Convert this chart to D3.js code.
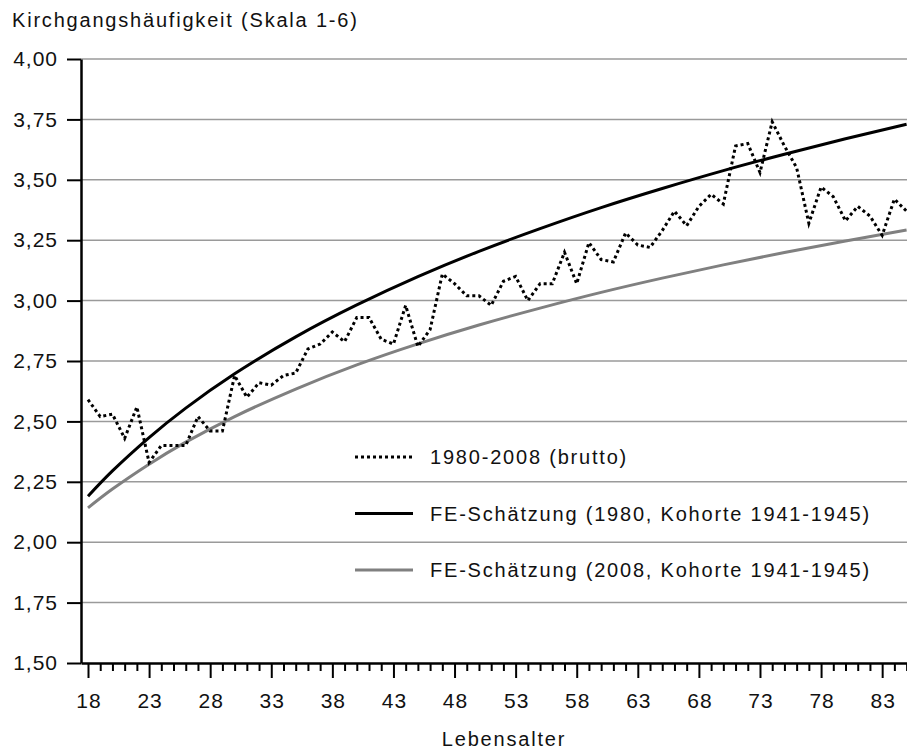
<!DOCTYPE html>
<html>
<head>
<meta charset="utf-8">
<script src="https://cdn.jsdelivr.net/npm/d3@7"></script>
<style>
  body { margin: 0; background: #fff; }
  svg text { font-family: "Liberation Sans", Arial, sans-serif; fill: #111; letter-spacing: 1.6px; }
</style>
</head>
<body>
<div id="chart"></div>
<script>
// Lebensalter 18-85, Rohwerte 1980-2008
const ages = d3.range(18, 86);
const brutto = [
  2.59, 2.52, 2.53, 2.43, 2.56, 2.33, 2.40, 2.40, 2.40, 2.52,
  2.46, 2.46, 2.69, 2.60, 2.66, 2.65, 2.69, 2.70, 2.80, 2.82,
  2.87, 2.83, 2.93, 2.93, 2.84, 2.82, 2.98, 2.81, 2.88, 3.11,
  3.07, 3.02, 3.02, 2.98, 3.08, 3.10, 3.00, 3.07, 3.07, 3.20,
  3.07, 3.24, 3.17, 3.16, 3.28, 3.23, 3.22, 3.29, 3.37, 3.31,
  3.39, 3.44, 3.40, 3.64, 3.65, 3.53, 3.74, 3.64, 3.55, 3.32,
  3.47, 3.43, 3.33, 3.39, 3.35, 3.27, 3.42, 3.37
];

const feAges = [18, 20, 23, 26, 30, 35, 40, 45, 50, 55, 60, 65, 70, 75, 80, 85];
const fe1980 = [2.190, 2.295, 2.433, 2.555, 2.697, 2.850, 2.982, 3.099, 3.204, 3.298, 3.385, 3.464, 3.538, 3.606, 3.670, 3.730];
const fe2008 = [2.142, 2.220, 2.323, 2.414, 2.520, 2.634, 2.734, 2.821, 2.899, 2.969, 3.034, 3.093, 3.148, 3.199, 3.247, 3.292];

const yTicks = [1.5, 1.75, 2.0, 2.25, 2.5, 2.75, 3.0, 3.25, 3.5, 3.75, 4.0];
const xLabels = [18, 23, 28, 33, 38, 43, 48, 53, 58, 63, 68, 73, 78, 83];

const seriesNames = [
  "1980-2008 (brutto)",
  "FE-Schätzung (1980, Kohorte 1941-1945)",
  "FE-Schätzung (2008, Kohorte 1941-1945)"
];

const width = 907, height = 749;
const plotLeft = 81, plotRight = 907, plotTop = 59, plotBottom = 663;

const svg = d3.select("#chart").append("svg")
  .attr("width", width)
  .attr("height", height);

const x = d3.scaleLinear()
  .domain([18 - 7 / 12.215, 85])
  .range([plotLeft, 906.6]);

const y = d3.scaleLinear()
  .domain([1.5, 4.0])
  .range([plotBottom, plotTop]);

const fmt = v => d3.format(".2f")(v).replace(".", ",");

// gridlines
svg.append("g")
  .selectAll("line")
  .data(yTicks.filter(d => d > 1.5))
  .join("line")
  .attr("x1", plotLeft)
  .attr("x2", plotRight)
  .attr("y1", d => y(d))
  .attr("y2", d => y(d))
  .attr("stroke", "#9a9a9a")
  .attr("stroke-width", 1.5);

// Y axis
const yAxis = svg.append("g")
  .attr("transform", `translate(${plotLeft},0)`)
  .call(d3.axisLeft(y).tickValues(yTicks).tickFormat(fmt).tickSize(14).tickSizeOuter(0).tickPadding(9));
yAxis.select(".domain").attr("stroke", "#000").attr("stroke-width", 2.5);
yAxis.selectAll(".tick line").attr("stroke", "#000").attr("stroke-width", 2);
yAxis.selectAll(".tick text")
  .style("font-size", "21px")
  .style("letter-spacing", "1px")
  .style("font-family", "Liberation Sans, Arial, sans-serif")
  .attr("fill", "#111");

// X axis: minor ticks every year, major every 5 years
const xAxis = svg.append("g")
  .attr("transform", `translate(0,${plotBottom})`)
  .call(d3.axisBottom(x).tickValues(ages).tickSize(8).tickSizeOuter(0)
    .tickFormat(d => xLabels.includes(d) ? d : ""));
xAxis.select(".domain").attr("stroke", "#000").attr("stroke-width", 2.5);
xAxis.selectAll(".tick line")
  .attr("stroke", "#000")
  .attr("stroke-width", 2)
  .attr("y2", d => xLabels.includes(d) ? 15 : 8);
xAxis.selectAll(".tick text")
  .attr("y", 30)
  .attr("dx", "0.5px")
  .style("font-size", "21px")
  .style("letter-spacing", "1px")
  .style("font-family", "Liberation Sans, Arial, sans-serif")
  .attr("fill", "#111");

// axis titles
svg.append("text")
  .attr("x", 12)
  .attr("y", 27)
  .style("font-size", "20px")
  .style("letter-spacing", "1.8px")
  .text("Kirchgangshäufigkeit (Skala 1-6)");

svg.append("text")
  .attr("x", 504)
  .attr("y", 746)
  .attr("text-anchor", "middle")
  .style("font-size", "20px")
  .style("letter-spacing", "1.8px")
  .text("Lebensalter");

// lines
const lineBrutto = d3.line()
  .x((d, i) => x(ages[i]))
  .y(d => y(d));

const lineFe = d3.line()
  .x((d, i) => x(feAges[i]))
  .y(d => y(d))
  .curve(d3.curveNatural);

svg.append("path")
  .datum(fe2008)
  .attr("d", lineFe)
  .attr("fill", "none")
  .attr("stroke", "#808080")
  .attr("stroke-width", 3);

svg.append("path")
  .datum(fe1980)
  .attr("d", lineFe)
  .attr("fill", "none")
  .attr("stroke", "#000")
  .attr("stroke-width", 3);

svg.append("path")
  .datum(brutto)
  .attr("d", lineBrutto)
  .attr("fill", "none")
  .attr("stroke", "#000")
  .attr("stroke-width", 3)
  .attr("stroke-dasharray", "3,3");

// legend
const legendStyles = [
  { stroke: "#000", dash: "3,3" },
  { stroke: "#000", dash: null },
  { stroke: "#808080", dash: null }
];
const legend = svg.append("g");
seriesNames.forEach((name, i) => {
  const ly = 457 + i * 56.5;
  legend.append("line")
    .attr("x1", 355).attr("x2", 413)
    .attr("y1", ly).attr("y2", ly)
    .attr("stroke", legendStyles[i].stroke)
    .attr("stroke-width", 3)
    .attr("stroke-dasharray", legendStyles[i].dash);
  legend.append("text")
    .attr("x", 430)
    .attr("y", ly + 7)
    .style("font-size", "20px")
    .style("letter-spacing", "1.8px")
    .text(name);
});
</script>
</body>
</html>
